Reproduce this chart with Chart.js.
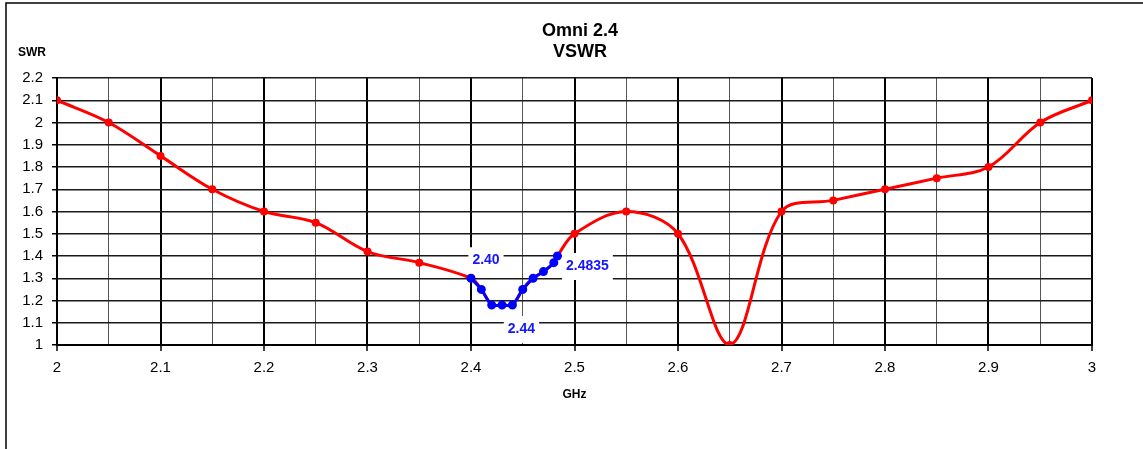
<!DOCTYPE html>
<html>
<head>
<meta charset="utf-8">
<title>Omni 2.4 VSWR</title>
<script src="https://cdn.jsdelivr.net/npm/chart.js@4.4.1/dist/chart.umd.min.js"></script>
<style>
  html, body { margin: 0; padding: 0; background: #fff; }
  #wrap { width: 1143px; height: 449px; position: relative; }
</style>
</head>
<body>
<div id="wrap"><canvas id="chart" width="1143" height="449"></canvas></div>
<script>
// red curve: full sweep 2 - 3 GHz
const freqSweep = [2.00, 2.05, 2.10, 2.15, 2.20, 2.25, 2.30, 2.35, 2.40, 2.45, 2.50,
                   2.55, 2.60, 2.65, 2.70, 2.75, 2.80, 2.85, 2.90, 2.95, 3.00];
const swrSweep  = [2.10, 2.00, 1.85, 1.70, 1.60, 1.55, 1.42, 1.37, 1.30, 1.25, 1.50,
                   1.60, 1.50, 1.00, 1.60, 1.65, 1.70, 1.75, 1.80, 2.00, 2.10];

// blue curve: wifi band
const freqBand = [2.40, 2.41, 2.42, 2.43, 2.44, 2.45, 2.46, 2.47, 2.48, 2.4835];
const swrBand  = [1.30, 1.25, 1.18, 1.18, 1.18, 1.25, 1.30, 1.33, 1.37, 1.40];

// which band points get a text label
const bandLabelIdx  = [0, 4, 9];
const bandLabelText = ['2.40', '2.44', '2.4835'];

const xTicks = [2, 2.1, 2.2, 2.3, 2.4, 2.5, 2.6, 2.7, 2.8, 2.9, 3];
const yTicks = [1, 1.1, 1.2, 1.3, 1.4, 1.5, 1.6, 1.7, 1.8, 1.9, 2, 2.1, 2.2];

const FONT = "'Liberation Sans', Arial, sans-serif";

const isMajor = v => Math.round(v * 100) % 10 === 0;

// the red line runs through the band points too (hidden under the blue)
const sweepPts = freqSweep.map((f, i) => ({ x: f, y: swrSweep[i] }));
freqBand.forEach((f, i) => {
  if (!freqSweep.includes(f)) sweepPts.push({ x: f, y: swrBand[i], band: true });
});
sweepPts.sort((a, b) => a.x - b.x);

const extras = {
  id: 'extras',
  beforeDraw(chart) {
    const ctx = chart.ctx;
    ctx.save();
    // outer frame (left + top only visible)
    ctx.strokeStyle = '#000';
    ctx.lineWidth = 1.5;
    ctx.beginPath();
    ctx.moveTo(6, 449);
    ctx.lineTo(6, 3);
    ctx.lineTo(1143, 3);
    ctx.stroke();
    // title
    ctx.fillStyle = '#000';
    ctx.textAlign = 'center';
    ctx.textBaseline = 'middle';
    ctx.font = 'bold 18px ' + FONT;
    ctx.fillText('Omni 2.4', 580, 31);
    ctx.fillText('VSWR', 580, 52);
    // y axis title
    ctx.font = 'bold 12px ' + FONT;
    ctx.fillText('SWR', chart.chartArea.left - 25, chart.chartArea.top - 25);
    ctx.restore();
  },
  beforeDatasetsDraw(chart) {
    const ctx = chart.ctx;
    const xs = chart.scales.x, ys = chart.scales.y;
    const offs = [[15, -18], [9, 24], [30, 10]];
    ctx.save();
    ctx.font = 'bold 14px ' + FONT;
    ctx.textAlign = 'center';
    ctx.textBaseline = 'middle';
    bandLabelIdx.forEach((idx, k) => {
      const px = xs.getPixelForValue(freqBand[idx]) + offs[k][0];
      const py = ys.getPixelForValue(swrBand[idx]) + offs[k][1];
      const w = ctx.measureText(bandLabelText[k]).width + 8;
      ctx.fillStyle = '#fff';
      ctx.fillRect(px - w / 2, py - 13, w, 27);
      ctx.fillStyle = '#1414ff';
      ctx.fillText(bandLabelText[k], px, py);
    });
    ctx.restore();
  }
};

new Chart(document.getElementById('chart'), {
  type: 'line',
  data: {
    datasets: [
      {
        label: 'band',
        data: freqBand.map((f, i) => ({ x: f, y: swrBand[i] })),
        borderColor: '#0000ff',
        backgroundColor: '#0000ff',
        borderWidth: 3,
        pointRadius: 3,
        tension: 0.25
      },
      {
        label: 'sweep',
        data: sweepPts,
        borderColor: '#ff0000',
        backgroundColor: '#ff0000',
        borderWidth: 3,
        pointRadius: c => (c.raw && c.raw.band) ? 0 : 2.5,
        tension: 0.35
      }
    ]
  },
  options: {
    responsive: false,
    animation: false,
    layout: { padding: { top: 78, right: 51, left: 0, bottom: 0 } },
    plugins: {
      legend: { display: false },
      tooltip: { enabled: false }
    },
    scales: {
      x: {
        type: 'linear',
        min: 2,
        max: 3,
        afterBuildTicks: s => {
          const t = [];
          xTicks.forEach((v, i) => {
            t.push({ value: v });
            if (i < xTicks.length - 1) t.push({ value: Math.round((v + 0.05) * 100) / 100 });
          });
          s.ticks = t;
        },
        afterFit: s => { s.height = 104; },
        grid: {
          color: c => isMajor(c.tick.value) ? '#000' : '#555',
          lineWidth: c => isMajor(c.tick.value) ? 2 : 1,
          tickColor: c => isMajor(c.tick.value) ? '#000' : 'rgba(0,0,0,0)',
          tickLength: 6,
          tickWidth: 1.5
        },
        border: { color: '#000', width: 2 },
        ticks: {
          autoSkip: false,
          maxRotation: 0,
          padding: 8,
          color: '#000',
          font: { family: FONT, size: 15 },
          callback: v => isMajor(v) ? String(Math.round(v * 10) / 10) : ''
        },
        title: {
          display: true,
          text: 'GHz',
          color: '#000',
          font: { family: FONT, size: 12, weight: 'bold' },
          padding: { top: 0, bottom: 47 }
        }
      },
      y: {
        min: 1,
        max: 2.2,
        afterBuildTicks: s => { s.ticks = yTicks.map(v => ({ value: v })); },
        afterFit: s => { s.width = 57; },
        grid: {
          color: '#1a1a1a',
          lineWidth: 1.5,
          tickColor: '#000',
          tickLength: 5
        },
        border: { color: '#000', width: 2 },
        ticks: {
          padding: 9,
          color: '#000',
          font: { family: FONT, size: 15 },
          callback: v => String(Math.round(v * 10) / 10)
        }
      }
    }
  },
  plugins: [extras]
});
</script>
</body>
</html>
